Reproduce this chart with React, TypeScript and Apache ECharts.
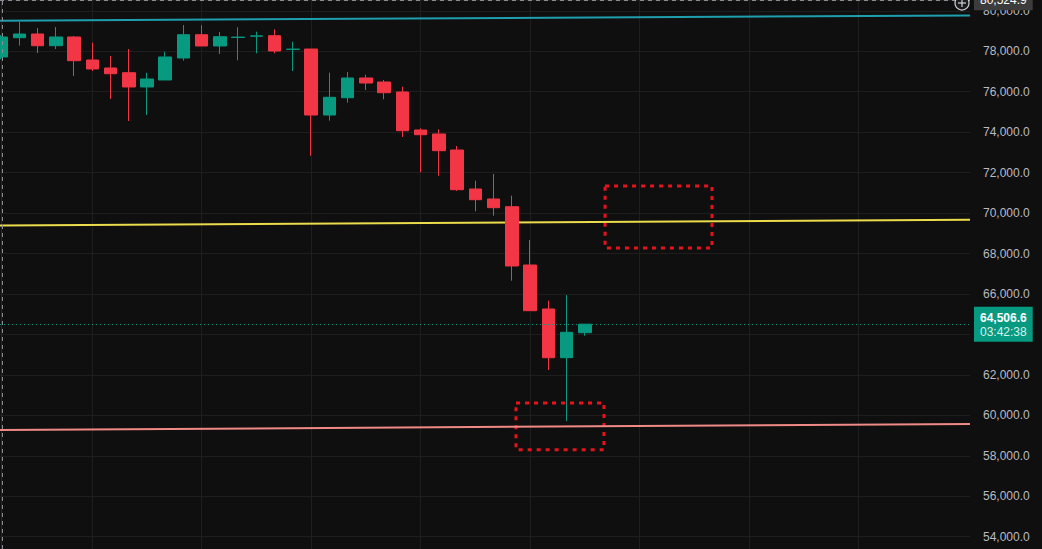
import React, { useEffect, useRef } from "react";
import * as echarts from "echarts";

// Candle positions (bar index) and OHLC values
const candleIndex = [0, 1, 2, 3, 4, 5, 6, 7, 8, 9, 10, 11, 12, 13, 14, 15, 16, 17, 18, 19, 20, 21, 22, 23, 24, 25, 26, 27, 28, 29, 30, 31, 32];
const opens = [77716, 78670, 78853, 78275, 78705, 77568, 77172, 76940, 76233, 76579, 77667, 78818, 78260, 78680, 78745, 78769, 78090, 78111, 74848, 75704, 76678, 76480, 75986, 74107, 73909, 73118, 71190, 70695, 70315, 67432, 65257, 62849, 64085];
const closes = [78705, 78853, 78275, 78705, 77533, 77123, 76890, 76233, 76628, 77716, 78818, 78260, 78720, 78700, 78760, 78013, 78105, 74848, 75723, 76678, 76430, 75951, 74072, 73874, 73083, 71155, 70661, 70265, 67383, 65173, 62849, 64105, 64506.6];
const lows = [77600, 78275, 77914, 78111, 76777, 77024, 75639, 74552, 74848, 76579, 77533, 78260, 77864, 77553, 77899, 77899, 77024, 72836, 74566, 75456, 76084, 75625, 73761, 72016, 71848, 71091, 70087, 69870, 66656, 65173, 62241, 59714, 63937];
const highs = [78800, 79446, 79150, 79199, 78754, 78423, 77765, 78111, 76940, 77978, 79298, 79283, 78952, 79184, 78967, 79085, 78472, 78111, 76940, 76974, 76841, 76579, 76248, 74191, 74141, 73316, 71600, 71932, 70858, 68668, 65668, 65949, 64516];

// Trend lines: value at left edge, value at right edge
const trendTeal = [79511, 79768];
const trendYellow = [69380, 69670];
const trendPink = [59275, 59572];

// Dotted zones: [x0, y0, x1, y1]
const zoneUpper = [33.1, 71338, 38.96, 68273];
const zoneLower = [28.22, 60610, 33.04, 58301];

// Vertical grid columns (bar index)
const gridColumns = [5, 11, 17, 23, 29, 35, 41, 47];

// Axis range
const xRange = [-0.055, 53.097];
const yRange = [53391, 80534];

const crosshairPrice = 80524.9;
const crosshairBar = 0.055;
const countdown = "03:42:38";

const UP = "#089981";
const DOWN = "#f23645";
const FONT = "Liberation Sans, Arial, sans-serif";

const fmt = (v: number) =>
  v.toLocaleString("en-US", { minimumFractionDigits: 1, maximumFractionDigits: 1 });

export default function App() {
  const ref = useRef<HTMLDivElement>(null);
  useEffect(() => {
    const el = ref.current!;
    const chart = echarts.init(el, undefined, { renderer: "svg" });
    const lastPrice = closes[closes.length - 1];
    const candles = candleIndex.map((i, k) => [i, opens[k], closes[k], lows[k], highs[k]]);
    const trend = (vals: number[]) => [
      [xRange[0], vals[0]],
      [xRange[1], vals[1]],
    ];
    const zone = (z: number[]) => [{ coord: [z[0], z[1]] }, { coord: [z[2], z[3]] }];

    chart.setOption({
      animation: false,
      backgroundColor: "#0f0f0f",
      grid: { left: 0, right: 72, top: 0, bottom: 0, containLabel: false },
      xAxis: { type: "value", min: xRange[0], max: xRange[1], show: false },
      yAxis: {
        type: "value",
        position: "right",
        min: yRange[0],
        max: yRange[1],
        minInterval: 2000,
        maxInterval: 2000,
        axisLine: { show: true, lineStyle: { color: "#2a2a2a" } },
        axisTick: { show: false },
        axisLabel: {
          color: "#b8bbc3",
          fontSize: 12,
          fontFamily: FONT,
          margin: 13,
          formatter: (v: number) => fmt(v),
          showMinLabel: false,
          showMaxLabel: false,
        },
        splitLine: { show: true, lineStyle: { color: "#1e1e1e", width: 1 } },
      },
      series: [
        {
          type: "line",
          name: "teal",
          data: trend(trendTeal),
          symbol: "none",
          silent: true,
          z: 1,
          lineStyle: { color: "#1e9fae", width: 2 },
          markLine: {
            z: 0,
            silent: true,
            symbol: "none",
            label: { show: false },
            lineStyle: { color: "#1e1e1e", type: "solid", width: 1 },
            data: gridColumns.map((x) => ({ xAxis: x })),
          },
        },
        {
          type: "line",
          name: "yellow",
          data: trend(trendYellow),
          symbol: "none",
          silent: true,
          z: 1,
          lineStyle: { color: "#ecdc4c", width: 2 },
          markLine: {
            silent: true,
            symbol: "none",
            lineStyle: { color: "#8a8d94", type: [4, 4], width: 1 },
            data: [
              {
                yAxis: crosshairPrice,
                label: {
                  show: true,
                  position: "end",
                  distance: 4,
                  formatter: fmt(crosshairPrice),
                  color: "#ffffff",
                  fontSize: 12,
                  fontFamily: FONT,
                  backgroundColor: "#3c3c3c",
                  padding: [4, 6, 4, 6],
                },
              },
              { xAxis: crosshairBar, label: { show: false } },
            ],
          },
        },
        {
          type: "line",
          name: "pink",
          data: trend(trendPink),
          symbol: "none",
          silent: true,
          z: 1,
          lineStyle: { color: "#f08a86", width: 2 },
        },
        {
          type: "candlestick",
          name: "price",
          data: candles,
          barWidth: 13,
          z: 2,
          itemStyle: {
            color: UP,
            color0: DOWN,
            borderColor: UP,
            borderColor0: DOWN,
            borderWidth: 1,
          },
          markArea: {
            silent: true,
            itemStyle: {
              color: "rgba(0,0,0,0)",
              borderColor: "#e5141c",
              borderWidth: 3,
              borderType: [4, 5],
            },
            data: [zone(zoneUpper), zone(zoneLower)],
          },
          markLine: {
            silent: true,
            symbol: "none",
            lineStyle: { color: UP, type: [1, 3], width: 1 },
            data: [
              {
                yAxis: lastPrice,
                label: {
                  show: true,
                  position: "end",
                  distance: 4,
                  formatter: `{a|${fmt(lastPrice)}}\n{b|${countdown}}`,
                  backgroundColor: UP,
                  padding: [4, 6, 3, 6],
                  rich: {
                    a: { color: "#ffffff", fontWeight: "bold", fontSize: 12, lineHeight: 14, fontFamily: FONT },
                    b: { color: "#d6f1ea", fontSize: 12, lineHeight: 14, fontFamily: FONT },
                  },
                },
              },
            ],
          },
        },
      ],
      graphic: [
        {
          type: "circle",
          shape: { cx: 962, cy: 3, r: 7 },
          style: { fill: "#1c1c1c", stroke: "#d1d4dc", lineWidth: 1.2 },
          z: 10,
        },
        {
          type: "line",
          shape: { x1: 958, y1: 3, x2: 966, y2: 3 },
          style: { stroke: "#d1d4dc", lineWidth: 1.2 },
          z: 11,
        },
        {
          type: "line",
          shape: { x1: 962, y1: -1, x2: 962, y2: 7 },
          style: { stroke: "#d1d4dc", lineWidth: 1.2 },
          z: 11,
        },
      ],
    });
    return () => chart.dispose();
  }, []);
  return <div ref={ref} style={{ position: "fixed", left: 0, top: 0, width: 1042, height: 549 }} />;
}
